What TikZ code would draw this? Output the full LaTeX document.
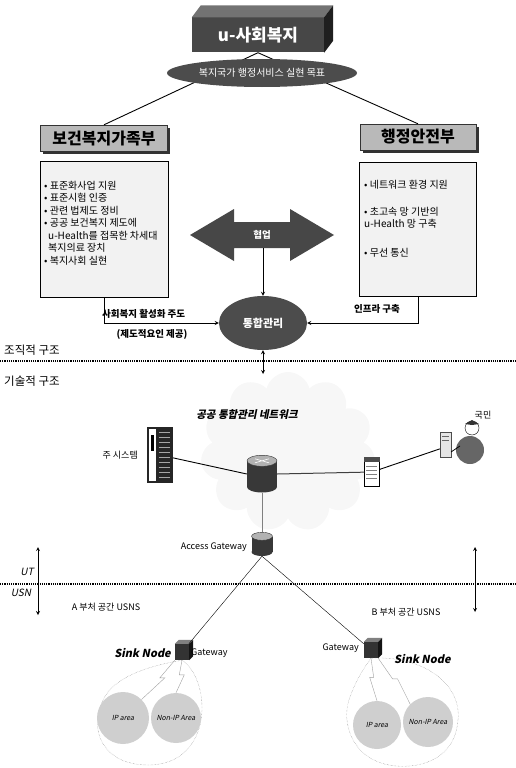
\documentclass[tikz,border=0pt]{standalone}
\usepackage{fontspec}
\setmainfont{Noto Sans CJK KR}
\newfontfamily\slantfont{Noto Sans CJK KR}[FakeSlant=0.2]
\usepackage{tikz}
\usetikzlibrary{shapes.geometric, shapes.symbols, arrows.meta, positioning, calc, shadows}

\begin{document}
\begin{tikzpicture}[
  x=1pt, y=-1pt,
  hdr/.style={draw=black!80, fill=gray!55, minimum width=127pt, minimum height=26pt,
              inner sep=0pt, font=\fontsize{16}{18}\selectfont\bfseries,
              drop shadow={shadow xshift=2.5pt, shadow yshift=-2.5pt, fill=black!80, opacity=1}},
  listbox/.style={draw, fill=gray!10, minimum width=128pt, minimum height=136pt, inner sep=0pt},
  item/.style={align=left, anchor=north west, inner sep=0pt, font=\fontsize{10}{12.5}\selectfont},
  darkell/.style={ellipse, fill=black!70, text=white, inner sep=0pt},
  arrow/.style={->, >=stealth, thick},
  note/.style={font=\fontsize{9.5}{11}\selectfont\bfseries, inner sep=1pt},
  splitline/.style={densely dotted, line width=1.2pt},
  link/.style={line width=0.9pt},
  drum/.style={fill=black!78, inner sep=0pt},
  drumcap/.style={ellipse, inner sep=0pt},
  sinkbox/.style={fill=black!80, minimum width=14pt, minimum height=16pt, inner sep=0pt},
  area/.style={circle, fill=gray!38, inner sep=0pt, font=\slantfont\fontsize{7}{8}\selectfont},
  reach/.style={densely dotted, gray, thin},
  bolt/.style={gray!75, thin},
  small/.style={font=\fontsize{9}{11}\selectfont, inner sep=1pt},
]
\useasboundingbox (0,0) rectangle (516,768);

%% Top: u-welfare block
\node[fill=black!72, minimum width=132pt, minimum height=35pt, text=white,
      font=\fontsize{17}{19}\selectfont\bfseries] (top) at (258,35) {u-사회복지};
\fill[black!55] (top.north west) -- ++(9,-12) -- ($(top.north east)+(9,-12)$) -- (top.north east) -- cycle;
\fill[black!88] (top.north east) -- ++(9,-12) -- ($(top.south east)+(9,-12)$) -- (top.south east) -- cycle;

%% Ministries
\node[hdr] (hw) at (104,138) {보건복지가족부};
\node[hdr, minimum width=116pt] (ms) at (418,137) {행정안전부};
\draw[link] (top.south) -- (hw.north);
\draw[link] (top.south) -- (ms.north);
\node[darkell, minimum width=190pt, minimum height=28pt, font=\fontsize{10}{12}\selectfont] (goal)
  at (262,73) {복지국가 행정서비스 실현 목표};

%% Task lists
\node[listbox] (hwbox) at (104,229) {};
\node[item] (hwtext) at (44,181)
  {• 표준화사업 지원\\• 표준시험 인증\\• 관련 법제도 정비\\• 공공 보건복지 제도에\\
   \hspace*{4pt}u-Health를 접목한 차세대\\\hspace*{4pt}복지의료 장치\\• 복지사회 실현};
\node[listbox, minimum width=117pt, minimum height=134pt] (msbox) at (418,229) {};
\node[item] (mstext) at (364,180)
  {• 네트워크 환경 지원\\[14pt]• 초고속 망 기반의\\u-Health 망 구축\\[16pt]• 무선 통신};

%% Cooperation arrow
\fill[black!72] (190,235) -- (234,209) -- (234,222) -- (290,222) -- (290,209) -- (334,235)
  -- (290,261) -- (290,248) -- (234,248) -- (234,261) -- cycle;
\node[text=white, font=\fontsize{9.5}{11}\selectfont\bfseries] (coop) at (262,235) {협업};
\coordinate (coopBase) at (263,248);

%% Integrated management
\node[darkell, minimum width=88pt, minimum height=54pt, font=\fontsize{11}{13}\selectfont\bfseries] (mgmt)
  at (263,323) {통합관리};
\draw[arrow] (coopBase) -- (mgmt.north);
\draw[arrow] (hwbox.south) |- (mgmt.west);
\draw[arrow] (msbox.south) |- (mgmt.east);
\node[note, anchor=south west] (lead) at (101,320) {사회복지 활성화 주도};
\node[note] (inst) at (152,334) {(제도적요인 제공)};
\node[note] (infra) at (377,309) {인프라 구축};

%% Organisational / technical split
\node[font=\fontsize{11.5}{13}\selectfont, anchor=west, inner sep=0pt] (org) at (4,350) {조직적 구조};
\node[font=\fontsize{11.5}{13}\selectfont, anchor=west, inner sep=0pt] (tech) at (4,381) {기술적 구조};
\draw[splitline] (0,361) -- (516,361);

%% Public network
\node[cloud, cloud puffs=11, aspect=1.1, fill=gray!6, minimum width=175pt, minimum height=160pt] (net)
  at (288,452) {};
\node[font=\slantfont\fontsize{10.5}{12}\selectfont\bfseries] (nettitle) at (247,415) {공공 통합관리 네트워크};
\coordinate (netTop) at (263,374);
\draw[<->, >=stealth, thick] (mgmt.south) -- (netTop);

% main system rack
\node[fill=black!85, minimum width=26pt, minimum height=56pt, inner sep=0pt] (mainsys) at (160,455) {};
\fill[white] ($(mainsys.north west)+(2,2)$) rectangle ($(mainsys.south west)+(9,-2)$);
\fill[black] ($(mainsys.north west)+(4,8)$) rectangle ($(mainsys.north west)+(7,24)$);
\foreach \k in {0,...,9}
  \draw[gray!70] ($(mainsys.north west)+(12,5+5*\k)$) -- +(11,0);
\node[small, anchor=east] (mainlbl) at (139,455) {주 시스템};

% web server
\node[draw, fill=white, minimum width=15pt, minimum height=29pt, inner sep=0pt] (websrv) at (372,472) {};
\fill[black!70] (websrv.north west) rectangle ($(websrv.north east)+(0,5)$);
\foreach \k in {0,...,3}
  \draw[gray] ($(websrv.north west)+(2,9+4*\k)$) -- +(11,0);

% citizen at a terminal
\node[minimum width=40pt, minimum height=46pt, inner sep=0pt] (citizen) at (460,442) {};
\draw[black!70, fill=gray!20] (440,432) rectangle (451,457);
\draw[black!60] (442,436) -- (449,436) (442,440) -- (449,440);
\fill[black!60] (470,450) circle[radius=14pt];
\draw[fill=white] (472,428) circle[radius=7pt];
\fill[black!80] (465,424) -- (472,420) -- (479,424) -- (472,425) -- cycle;
\draw[line width=0.8pt] (460,446) -- (451,452);
\node[small] (people) at (483,415) {국민};

% core router
\node[drumcap, fill=black!78, minimum width=30pt, minimum height=11pt] (routerBot) at (262,487) {};
\node[drum, minimum width=30pt, minimum height=26pt] (router) at (262,474) {};
\node[drumcap, fill=gray!60, draw=black!80, minimum width=30pt, minimum height=11pt] (routerTop) at (router.north) {};
\draw[white, line width=0.6pt] ($(routerTop.center)+(-7,-2)$) -- ($(routerTop.center)+(7,2)$)
  ($(routerTop.center)+(-7,2)$) -- ($(routerTop.center)+(7,-2)$);

\draw[link] (mainsys) -- (router.west);
\draw[black!75, line width=1pt] (router.east) -- (websrv);
\draw[link] (websrv) -- (citizen);

% access gateway
\node[drumcap, fill=black!78, minimum width=21pt, minimum height=8pt] (gwBot) at (262,552) {};
\node[drum, minimum width=21pt, minimum height=15pt] (gw) at (262,544) {};
\node[drumcap, fill=gray!60, draw=black!80, minimum width=21pt, minimum height=8pt] (gwTop) at (gw.north) {};
\node[small, anchor=east] (gwlbl) at (248,547) {Access Gateway};
\draw[gray, line width=0.9pt] (routerBot.south) -- (gwTop.north);

%% UT / USN boundary
\draw[splitline] (0,584) -- (516,584);
\coordinate (utL) at (38,547);
\coordinate (usnL) at (38,615);
\coordinate (utR) at (475,547);
\coordinate (usnR) at (475,612);
\draw[<->, >=stealth, thick] (utL) -- (usnL);
\draw[<->, >=stealth, thick] (utR) -- (usnR);
\node[font=\slantfont\fontsize{10}{12}\selectfont, inner sep=0pt] (ut) at (27,572) {UT};
\node[font=\slantfont\fontsize{10}{12}\selectfont, inner sep=0pt] (usn) at (21,593) {USN};

%% Sensor networks
\node[small] (spaceA) at (106,607) {A 부처 공간 USNS};
\node[small] (spaceB) at (406,612) {B 부처 공간 USNS};

\node[sinkbox] (sinkA) at (182,652) {};
\fill[black!50] (sinkA.north west) -- ++(4,-4) -- ($(sinkA.north east)+(4,-4)$) -- (sinkA.north east) -- cycle;
\fill[black!92] (sinkA.north east) -- ++(4,-4) -- ($(sinkA.south east)+(4,-4)$) -- (sinkA.south east) -- cycle;
\node[sinkbox] (sinkB) at (371,650) {};
\fill[black!50] (sinkB.north west) -- ++(4,-4) -- ($(sinkB.north east)+(4,-4)$) -- (sinkB.north east) -- cycle;
\fill[black!92] (sinkB.north east) -- ++(4,-4) -- ($(sinkB.south east)+(4,-4)$) -- (sinkB.south east) -- cycle;
\draw (gwBot.south) -- (sinkA);
\draw (gwBot.south) -- (sinkB);

\node[font=\slantfont\fontsize{11}{13}\selectfont\bfseries, anchor=east, inner sep=1pt] (sinkAlbl) at (172,653) {Sink Node};
\node[small, anchor=west] (gwAlbl) at (190,653) {Gateway};
\node[small, anchor=east] (gwBlbl) at (360,648) {Gateway};
\node[font=\slantfont\fontsize{11}{13}\selectfont\bfseries, anchor=west, inner sep=1pt] (sinkBlbl) at (393,659) {Sink Node};

% sensing ranges
\draw[reach] (sinkA.south) .. controls (212,680) and (214,765) .. (148,765)
  .. controls (98,765) and (86,722) .. (108,692) .. controls (124,672) and (160,664) .. (sinkA.south);
\draw[reach] (sinkB.south) .. controls (420,655) and (462,682) .. (458,720)
  .. controls (455,760) and (420,768) .. (396,766) .. controls (352,762) and (340,722) .. (350,697)
  .. controls (356,680) and (364,668) .. (sinkB.south);

\node[area, minimum size=52pt] (ipA) at (123,718) {IP area};
\node[area, minimum size=50pt] (nonA) at (176,718) {Non-IP Area};
\node[area, minimum size=48pt] (ipB) at (377,725) {IP area};
\node[area, minimum size=50pt] (nonB) at (428,722) {Non-IP Area};

% wireless links
\draw[bolt] (sinkA.south west) -- ($(sinkA.south west)!.45!(ipA.north east)$) -- ++(5,0) -- (ipA.north east);
\draw[bolt] (sinkA.south) -- ($(sinkA.south)!.45!(nonA.north)$) -- ++(5,0) -- (nonA.north);
\draw[bolt] (sinkB.south) -- ($(sinkB.south)!.45!(ipB.north)$) -- ++(-4,0) -- (ipB.north);
\draw[bolt] (sinkB.south east) -- ($(sinkB.south east)!.45!(nonB.north west)$) -- ++(5,0) -- (nonB.north west);

\end{tikzpicture}
\end{document}
